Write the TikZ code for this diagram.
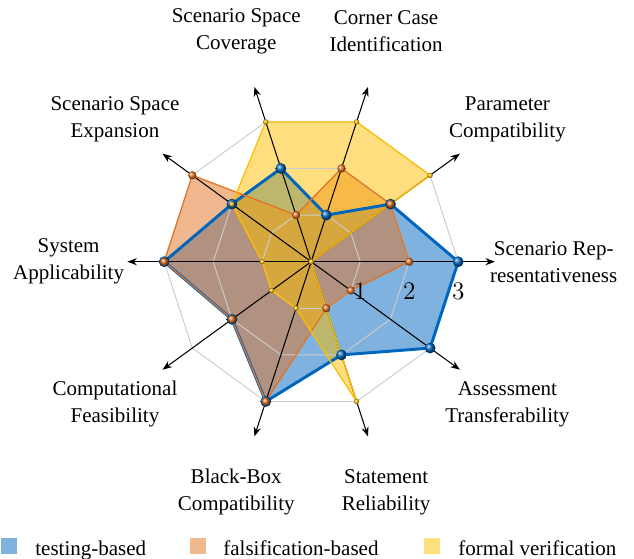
\documentclass[tikz,border=0pt]{standalone}
\usepackage{fontspec}
\setmainfont{Liberation Serif}
\usetikzlibrary{arrows.meta}

\definecolor{tumblue}{RGB}{0,101,189}
\definecolor{tumorange}{RGB}{227,114,34}
\definecolor{tumyellow}{RGB}{253,190,0}

\tikzset{
  gridline/.style={gray!40, line width=0.45pt},
  axisline/.style={black, line width=0.5pt, -{Stealth[length=4.5pt,width=3.4pt]}},
  axislabel/.style={align=center, inner sep=0pt},
  ticklabel/.style={font=\fontsize{12}{14}\selectfont, inner sep=0pt},
  tline/.style={tumblue, line width=1.4pt, line join=round},
  fline/.style={tumorange, line width=0.6pt, line join=round},
  vline/.style={tumyellow, line width=0.6pt, line join=round},
  legbox/.style={minimum size=0.27cm, inner sep=0pt},
  legtext/.style={anchor=base west, inner sep=0pt}
}

\begin{document}
\begin{tikzpicture}[x=0.82cm,y=0.82cm,font=\fontsize{10}{12.9}\selectfont]
\useasboundingbox (-6.351,-6.067) rectangle (6.588,5.341);
\coordinate (O) at (0,0);

% scores: testing / falsification / formal
\foreach \i/\t/\f/\v in {0/3/2/0,1/2/2/3,2/1/2/3,3/2/1/3,4/2/3/2,
                         5/3/3/1,6/2/2/1,7/3/3/1,8/2/1/3,9/3/1/0}{
  \coordinate (t\i) at (36*\i:\t);
  \coordinate (f\i) at (36*\i:\f);
  \coordinate (v\i) at (36*\i:\v);
}

% areas
\fill[tumblue, fill opacity=.5] (t0)--(t1)--(t2)--(t3)--(t4)--(t5)--(t6)--(t7)--(t8)--(t9)--cycle;
\fill[tumorange, fill opacity=.5] (f0)--(f1)--(f2)--(f3)--(f4)--(f5)--(f6)--(f7)--(f8)--(f9)--cycle;
\fill[tumyellow, fill opacity=.5] (v0)--(v1)--(v2)--(v3)--(v4)--(v5)--(v6)--(v7)--(v8)--(v9)--cycle;

% grid
\foreach \r in {1,2,3}
  \draw[gridline] (0:\r) \foreach \a in {36,72,...,324}{ -- (\a:\r)} -- cycle;

% axes
\foreach \i in {0,...,9}{
  \coordinate (a\i) at (36*\i:3.75);
  \draw[axisline] (O) -- (a\i);
}

% outlines
\draw[tline] (t0)--(t1)--(t2)--(t3)--(t4)--(t5)--(t6)--(t7)--(t8)--(t9)--cycle;
\draw[fline] (f0)--(f1)--(f2)--(f3)--(f4)--(f5)--(f6)--(f7)--(f8)--(f9)--cycle;
\draw[vline] (v0)--(v1)--(v2)--(v3)--(v4)--(v5)--(v6)--(v7)--(v8)--(v9)--cycle;

% scale
\foreach \r in {1,2,3}
  \node[ticklabel] (n\r) at (\r,-0.61) {$\r$};

% markers
\foreach \i in {0,...,9}{
  \shade[ball color=tumblue] (t\i) circle (0.11);
}
\foreach \i in {0,...,9}{
  \shade[ball color=tumorange] (f\i) circle (0.085);
}
\foreach \i in {0,...,9}{
  \shade[ball color=tumyellow] (v\i) circle (0.055);
}

% criteria
\foreach \i/\txt in {0/{Scenario Rep-\\resentativeness},1/{Parameter\\Compatibility},
                     2/{Corner Case\\Identification},3/{Scenario Space\\Coverage},
                     4/{Scenario Space\\Expansion},5/{System\\Applicability},
                     6/{Computational\\Feasibility},7/{Black-Box\\Compatibility},
                     8/{Statement\\Reliability},9/{Assessment\\Transferability}}
  \node[axislabel] (l\i) at (36*\i:4.95) {\txt};

% legend
\node[legbox, fill=tumblue!50] (legT) at (-6.167,-5.81) {};
\node[legtext] (legTtxt) at (-5.637,-5.986) {testing-based};
\node[legbox, fill=tumorange!50] (legF) at (-2.31,-5.81) {};
\node[legtext] (legFtxt) at (-1.80,-5.986) {falsification-based};
\node[legbox, fill=tumyellow!50] (legV) at (2.463,-5.81) {};
\node[legtext] (legVtxt) at (2.996,-5.986) {formal verification};
\end{tikzpicture}
\end{document}
